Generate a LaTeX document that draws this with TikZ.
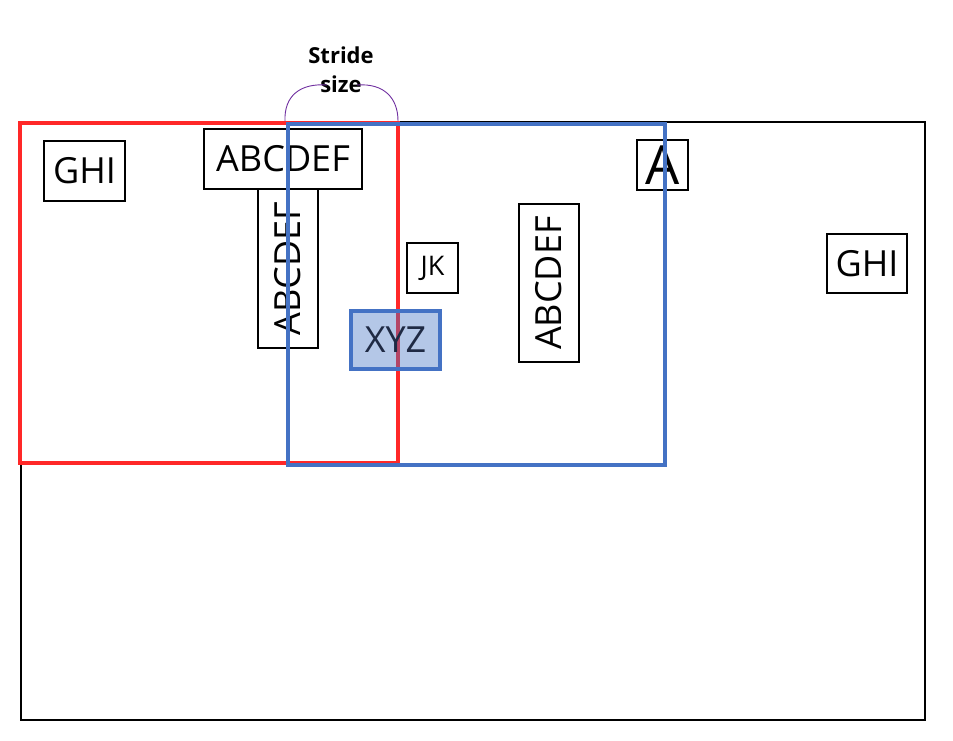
\documentclass[tikz,border=0pt]{standalone}
\usepackage{fontspec}
\setmainfont{Open Sans}
\usetikzlibrary{positioning}
\definecolor{winred}{RGB}{255,40,40}
\definecolor{winblue}{RGB}{68,114,196}
\definecolor{xyztext}{RGB}{31,42,68}
\definecolor{bracepurple}{RGB}{112,48,160}
\tikzset{txtbox/.style={draw,line width=1.6pt,inner sep=0pt,font=\fontsize{36}{40}\selectfont},
  frame/.style={line width=2.5pt},
  window/.style={line width=4pt}}

\begin{document}
\begin{tikzpicture}[x=1pt,y=-1pt]
\useasboundingbox (0,0) rectangle (953,740);
% image frame
\draw[frame] (21,122) rectangle (925,720);
% text boxes
\node[txtbox, minimum width=81, minimum height=60] (ghiL) at (84.5,171) {GHI};
\node[txtbox, minimum width=158, minimum height=60] (abcTop) at (283,159) {ABCDEF};
\node[txtbox, rotate=90, minimum width=159, minimum height=60] (abcL) at (288,268.5) {ABCDEF};
\node[txtbox, minimum width=51, minimum height=50, font=\fontsize{27}{30}\selectfont] (jk) at (432.5,268) {JK};
\node[txtbox, rotate=90, minimum width=158, minimum height=60] (abcR) at (549,283) {ABCDEF};
\node[txtbox, minimum width=51, minimum height=50, font=\fontsize{54}{56}\selectfont] (aBox) at (662.5,165) {A};
\node[txtbox, minimum width=80, minimum height=59] (ghiR) at (867,263.5) {GHI};
% sliding windows
\draw[window, winred] (20,123) rectangle (398,463);
\draw[window, winblue] (288,124) rectangle (665,465);
\node[txtbox, draw=winblue, line width=4pt, fill=winblue, fill opacity=0.4, text opacity=1, text=xyztext,
  minimum width=89, minimum height=58] (xyz) at (395.5,340) {XYZ};
% stride
\node[font=\bfseries\fontsize{22}{29}\selectfont, align=center] (stride) at (341,70) {Stride\\size};
\coordinate (sL0) at (285,121);
\coordinate (sL1) at (327,85);
\coordinate (sR0) at (357,85);
\coordinate (sR1) at (398,121);
\draw[bracepurple, line width=0.9pt] (sL0) .. controls (284,96) and (300,83) .. (sL1);
\draw[bracepurple, line width=0.9pt] (sR0) .. controls (384,83) and (398,98) .. (sR1);
\end{tikzpicture}
\end{document}
